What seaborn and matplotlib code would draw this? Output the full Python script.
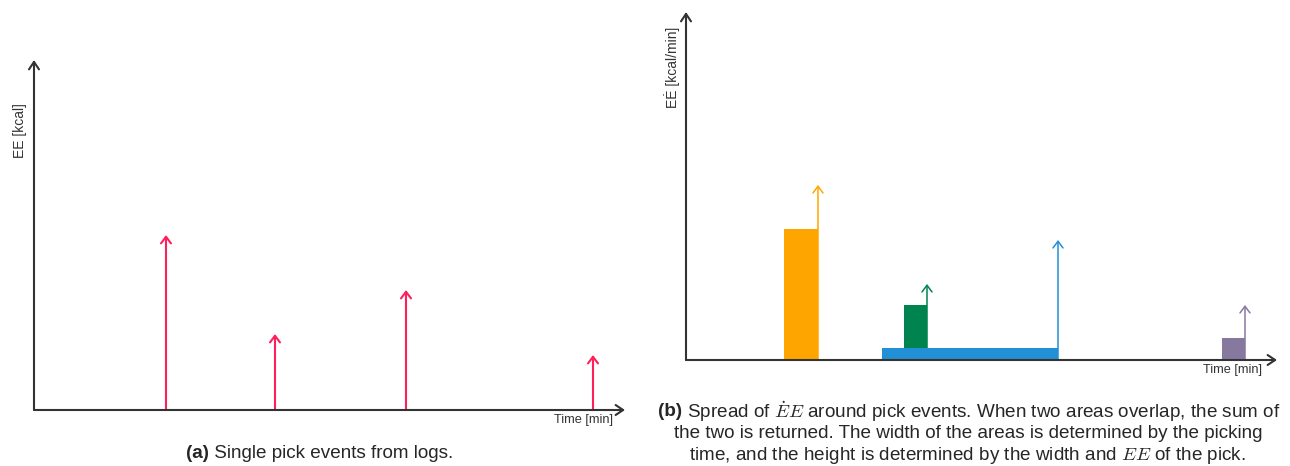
import matplotlib
matplotlib.use("Agg")
import matplotlib.pyplot as plt
import seaborn as sns

# pick events (same picks in both panels)
pick_time = [13.2, 24.1, 37.2, 55.9]        # min
pick_ee = [17.5, 7.6, 12.0, 5.5]            # kcal
pick_duration = [3.4, 2.3, 17.6, 2.3]       # min, picking time
ee_rate = [13.1, 4.3, 1.2, 2.2]             # kcal/min, spread height
pick_colors = ["#FFA500", "#00844F", "#2290D6", "#8778A0"]
single_color = "#FF1F5B"

sns.set_theme(style="white")
plt.rcParams["font.family"] = ["Liberation Sans", "DejaVu Sans"]
plt.rcParams["mathtext.fontset"] = "cm"

W, H = 1290, 466
fig = plt.figure(figsize=(W / 100, H / 100), dpi=100)
axis_col = "#333333"
text_col = "#333333"


def px_axes(x0, y_top, x1, y_bot):
    return fig.add_axes([x0 / W, 1 - y_bot / H, (x1 - x0) / W, (y_bot - y_top) / H])


def draw_axis_arrows(ax):
    ax.set_axis_off()
    style = dict(arrowstyle="->,head_length=0.45,head_width=0.3", color=axis_col,
                 lw=1.5, shrinkA=0, shrinkB=0, mutation_scale=12)
    ax.annotate("", xy=(1, 0), xytext=(0, 0), xycoords="axes fraction", arrowprops=style)
    ax.annotate("", xy=(0, 1), xytext=(0, 0), xycoords="axes fraction", arrowprops=style)


def pick_arrow(ax, t, v, color, lw):
    ax.annotate("", xy=(t, v), xytext=(t, 0), zorder=1,
                arrowprops=dict(arrowstyle="->,head_length=0.4,head_width=0.3", color=color,
                                lw=lw, shrinkA=0, shrinkB=0, mutation_scale=12))


# (a) single pick events
ax1 = px_axes(34, 60, 625, 410)
ax1.set_xlim(0, 59.1)
ax1.set_ylim(0, 35)
draw_axis_arrows(ax1)
for t, v in zip(pick_time, pick_ee):
    pick_arrow(ax1, t, v, single_color, 1.5)

# (b) spread of EE rate around picks
ax2 = px_axes(686, 12, 1277, 360)
ax2.set_xlim(0, 59.1)
ax2.set_ylim(0, 34.8)
draw_axis_arrows(ax2)
for t, v, c in zip(pick_time, pick_ee, pick_colors):
    pick_arrow(ax2, t, v, c, 1.1)
for i, (t, d, r, c) in enumerate(zip(pick_time, pick_duration, ee_rate, pick_colors)):
    # overlapping areas add up: stack on any longer pick that covers this one
    bottom = sum(ee_rate[j] for j in range(len(pick_time))
                 if j != i and pick_duration[j] > d
                 and pick_time[j] - pick_duration[j] <= t - d and pick_time[j] >= t)
    ax2.bar(t - d, r, width=d, bottom=bottom, align="edge", color=c, linewidth=0, zorder=2)

# axis labels
fig.text(613 / W, 1 - 420 / H, "Time [min]", ha="right", va="center", fontsize=9.2, color=text_col)
fig.text(1262 / W, 1 - 370 / H, "Time [min]", ha="right", va="center", fontsize=9.2, color=text_col)
fig.text(20 / W, 1 - 131 / H, "EE [kcal]", ha="center", va="center", rotation=90,
         fontsize=10, color=text_col)
fig.text(672 / W, 1 - 67 / H, "EĖ [kcal/min]", ha="center", va="center", rotation=90,
         fontsize=10, color=text_col)

# captions with bold sub-figure tag
fig.canvas.draw()
renderer = fig.canvas.get_renderer()
cap_size = 13.6


def caption_line(xc, y, bold, rest):
    y = 1 - y / H
    parts = []
    if bold:
        parts.append(fig.text(0, y, bold, fontweight="bold", fontsize=cap_size, va="center"))
    parts.append(fig.text(0, y, rest, fontsize=cap_size, va="center"))
    widths = [p.get_window_extent(renderer).width for p in parts]
    x = xc - sum(widths) / 2
    for p, w in zip(parts, widths):
        p.set_x(x / W)
        x += w


caption_line(320, 453, "(a)", " Single pick events from logs.")
caption_line(969, 412, "(b)", r" Spread of $\dot{E}E$ around pick events. When two areas overlap, the sum of")
caption_line(968, 434, None, "the two is returned. The width of the areas is determined by the picking")
caption_line(967, 455, None, r"time, and the height is determined by the width and $EE$ of the pick.")

fig.savefig("out.png", dpi=100)
